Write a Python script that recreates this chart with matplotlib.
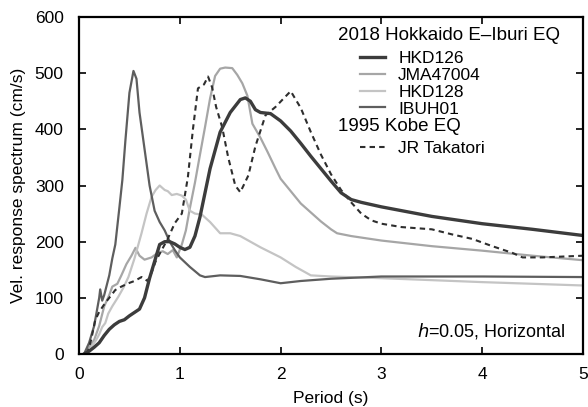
import matplotlib
matplotlib.use('Agg')
import matplotlib.pyplot as plt
from matplotlib.lines import Line2D

plt.rcParams['font.family'] = ['Liberation Sans', 'DejaVu Sans']
plt.rcParams['font.size'] = 12.5

# Periods (s) and velocity response (cm/s)
t_hkd126 = [0.05, 0.1, 0.15, 0.2, 0.25, 0.3, 0.35, 0.4, 0.45, 0.5, 0.55, 0.6, 0.65, 0.7,
            0.75, 0.8, 0.85, 0.9, 0.95, 1.0, 1.05, 1.1, 1.15, 1.2, 1.3, 1.4, 1.5, 1.6,
            1.65, 1.7, 1.75, 1.8, 1.9, 2.0, 2.1, 2.2, 2.3, 2.4, 2.5, 2.6, 2.7, 2.8,
            3.0, 3.5, 4.0, 4.5, 5.0]
v_hkd126 = [0, 5, 12, 20, 33, 44, 52, 58, 61, 68, 74, 80, 100, 135,
            165, 195, 200, 200, 196, 190, 186, 190, 210, 244, 330, 395, 430, 453,
            456, 450, 435, 430, 428, 415, 397, 375, 352, 330, 308, 287, 275, 270,
            262, 245, 232, 222, 211]

t_jma = [0.05, 0.1, 0.15, 0.2, 0.25, 0.3, 0.33, 0.38, 0.42, 0.47, 0.52, 0.56, 0.6, 0.65,
         0.72, 0.78, 0.83, 0.88, 0.93, 0.97, 1.02, 1.06, 1.1, 1.15, 1.2, 1.25, 1.3,
         1.35, 1.4, 1.45, 1.52, 1.57, 1.62, 1.67, 1.72, 1.8, 1.87, 1.95, 2.0, 2.1,
         2.2, 2.3, 2.4, 2.5, 2.56, 2.7, 3.0, 3.5, 4.0, 4.5, 5.0]
v_jma = [0, 12, 25, 50, 85, 105, 120, 125, 140, 160, 175, 189, 175, 168,
         172, 180, 183, 178, 185, 172, 195, 220, 260, 305, 355, 404, 455,
         495, 508, 510, 509, 497, 482, 460, 410, 385, 360, 330, 312, 290,
         268, 252, 236, 222, 215, 210, 202, 192, 184, 175, 167]

t_hkd128 = [0.08, 0.12, 0.17, 0.2, 0.23, 0.26, 0.29, 0.33, 0.39, 0.44, 0.49, 0.55, 0.62,
            0.67, 0.72, 0.76, 0.8, 0.85, 0.88, 0.92, 0.97, 1.02, 1.06, 1.1, 1.15, 1.22,
            1.3, 1.4, 1.5, 1.6, 1.8, 2.0, 2.15, 2.3, 2.5, 3.0, 4.0, 5.0]
v_hkd128 = [0, 12, 25, 35, 48, 55, 72, 85, 102, 118, 137, 170, 215,
            250, 280, 292, 300, 292, 290, 283, 285, 282, 275, 255, 250, 248,
            235, 215, 215, 210, 190, 172, 155, 140, 138, 135, 128, 122]

t_ibuh01 = [0.05, 0.1, 0.15, 0.18, 0.2, 0.21, 0.23, 0.25, 0.3, 0.33, 0.36, 0.4, 0.43,
            0.46, 0.5, 0.54, 0.57, 0.6, 0.65, 0.7, 0.75, 0.8, 0.85, 0.9, 0.95, 1.0,
            1.1, 1.2, 1.25, 1.4, 1.6, 1.8, 2.0, 2.2, 2.5, 3.0, 4.0, 5.0]
v_ibuh01 = [0, 20, 50, 80, 100, 115, 95, 105, 140, 170, 195, 260, 310,
            380, 465, 504, 490, 430, 365, 300, 255, 235, 220, 200, 185, 172,
            155, 140, 137, 140, 139, 133, 126, 130, 134, 138, 138, 137]

t_takatori = [0.08, 0.12, 0.16, 0.2, 0.26, 0.3, 0.36, 0.42, 0.49, 0.55, 0.62, 0.68, 0.72,
              0.76, 0.82, 0.88, 0.95, 1.02, 1.08, 1.13, 1.18, 1.24, 1.28, 1.32, 1.36,
              1.42, 1.48, 1.55, 1.6, 1.68, 1.75, 1.85, 1.95, 2.03, 2.1, 2.2, 2.3, 2.4,
              2.5, 2.6, 2.7, 2.8, 2.9, 3.0, 3.2, 3.5, 3.7, 3.9, 4.1, 4.3, 4.4, 4.6, 5.0]
v_takatori = [0, 25, 60, 75, 91, 100, 114, 120, 126, 130, 137, 130, 145,
              165, 185, 205, 233, 250, 315, 400, 473, 480, 494, 475, 440,
              404, 350, 300, 288, 318, 370, 425, 440, 455, 468, 438, 395, 355,
              320, 292, 270, 250, 238, 232, 226, 222, 213, 205, 192, 180, 172, 172, 175]

c126, cjma, c128, cibu, ctak = '#3c3c3c', '#a6a6a6', '#c4c4c4', '#5e5e5e', '#2e2e2e'
dash = (0, (2.6, 2.0))

fig = plt.figure(figsize=(5.88, 4.07), dpi=100)
ax = fig.add_axes([0.1344, 0.1302, 0.8571, 0.828])

ax.plot(t_jma, v_jma, color=cjma, lw=1.6)
ax.plot(t_hkd128, v_hkd128, color=c128, lw=1.6)
ax.plot(t_ibuh01, v_ibuh01, color=cibu, lw=1.6)
ax.plot(t_takatori, v_takatori, color=ctak, lw=1.5, ls=dash)
ax.plot(t_hkd126, v_hkd126, color=c126, lw=2.4)

ax.set_xlim(0, 5)
ax.set_ylim(0, 600)
ax.set_xticks(range(0, 6))
ax.set_yticks(range(0, 601, 100))
ax.tick_params(direction='in', top=True, right=True, length=5, width=1.2)
ax.tick_params(axis='x', pad=9.5)
ax.tick_params(axis='y', pad=11)
for s in ax.spines.values():
    s.set_linewidth(1.6)
ax.set_xlabel('Period (s)', labelpad=6)
ax.set_ylabel('Vel. response spectrum (cm/s)', labelpad=6)

# legend: headers as text, entries as two legends
h1 = [Line2D([], [], color=c126, lw=2.4),
      Line2D([], [], color=cjma, lw=1.6),
      Line2D([], [], color=c128, lw=1.6),
      Line2D([], [], color=cibu, lw=1.6)]
leg1 = ax.legend(h1, ['HKD126', 'JMA47004', 'HKD128', 'IBUH01'],
                 loc='upper left', bbox_to_anchor=(0.5575, 0.900), frameon=False,
                 handlelength=1.45, handletextpad=0.75, labelspacing=0.1,
                 borderpad=0, borderaxespad=0)
ax.add_artist(leg1)
h2 = [Line2D([], [], color=ctak, lw=1.5, ls=dash)]
ax.legend(h2, ['JR Takatori'], loc='upper left', bbox_to_anchor=(0.5575, 0.632),
          frameon=False, handlelength=1.45, handletextpad=0.75,
          borderpad=0, borderaxespad=0)

ax.text(0.514, 0.944, '2018 Hokkaido E\u2013Iburi EQ', transform=ax.transAxes,
        ha='left', va='center', fontsize=13.5)
ax.text(0.514, 0.674, '1995 Kobe EQ', transform=ax.transAxes, ha='left',
        va='center', fontsize=13.5)
ax.text(0.966, 0.068, '$h$=0.05, Horizontal', transform=ax.transAxes,
        ha='right', va='center', fontsize=13)

fig.savefig('out.png', dpi=100)
